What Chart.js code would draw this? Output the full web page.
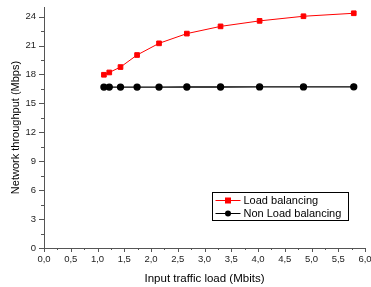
<!DOCTYPE html>
<html>
<head>
<meta charset="utf-8">
<script src="https://cdn.jsdelivr.net/npm/chart.js@4/dist/chart.umd.min.js"></script>
<style>
html,body{margin:0;padding:0;background:#fff}
#wrap{width:371px;height:287px;position:relative}
</style>
</head>
<body>
<div id="wrap"><canvas id="c" width="371" height="287"></canvas></div>
<script>
const loadX = [1.12, 1.22, 1.43, 1.74, 2.15, 2.67, 3.30, 4.03, 4.85, 5.79]
const balanced = [17.97, 18.21, 18.77, 20.02, 21.23, 22.24, 22.99, 23.56, 24.04, 24.35]
const notBalanced = [16.69, 16.69, 16.69, 16.69, 16.69, 16.70, 16.70, 16.71, 16.71, 16.72]
const seriesNames = ["Load balancing", "Non Load balancing"]
const xTitle = "Input traffic load (Mbits)"
const yTitle = "Network throughput (Mbps)"

const FONT = "'Liberation Sans', Arial, sans-serif"
const AXIS = "#555"

function pts(ys){
return loadX.map((x,i)=>({x:x,y:ys[i]}))
}

// minor/major ticks + legend box inside plot
const extras = {
id:"extras",
afterDraw(chart){
const ctx = chart.ctx
const xs = chart.scales.x
const ys = chart.scales.y
const a = chart.chartArea
ctx.save()
ctx.strokeStyle = AXIS
ctx.lineWidth = 1
for(let v=0; v<=6.001; v+=0.25){
const px = Math.round(xs.getPixelForValue(v))+0.5
const major = Math.abs(v*2-Math.round(v*2))<0.01
ctx.beginPath()
ctx.moveTo(px, a.bottom)
ctx.lineTo(px, a.bottom+(major?4:2))
ctx.stroke()
}
for(let v=0; v<=24.001; v+=1.5){
const py = Math.round(ys.getPixelForValue(v))+0.5
const major = Math.abs(v/3-Math.round(v/3))<0.01
ctx.beginPath()
ctx.moveTo(a.left, py)
ctx.lineTo(a.left-(major?5:3), py)
ctx.stroke()
}
// legend
const bx = 212.5, by = 192.5, bw = 136, bh = 28
ctx.fillStyle = "#fff"
ctx.fillRect(bx,by,bw,bh)
ctx.strokeStyle = "#000"
ctx.strokeRect(bx,by,bw,bh)
ctx.font = "11px " + FONT
ctx.textBaseline = "middle"
chart.data.datasets.forEach((ds,i)=>{
const cy = by + 8 + i*13
ctx.strokeStyle = ds.borderColor
ctx.lineWidth = 1
ctx.beginPath()
ctx.moveTo(bx+3, cy)
ctx.lineTo(bx+28, cy)
ctx.stroke()
ctx.fillStyle = ds.pointBackgroundColor
if(ds.pointStyle === "rect"){
ctx.fillRect(bx+15.5-3, cy-3, 6, 6)
} else {
ctx.beginPath()
ctx.arc(bx+15.5, cy, 3, 0, Math.PI*2)
ctx.fill()
}
ctx.fillStyle = "#000"
ctx.fillText(ds.label, bx+31, cy+0.5)
})
ctx.restore()
}
}

new Chart(document.getElementById("c"),{
type:"line",
data:{
datasets:[{
label:seriesNames[0],
data:pts(balanced),
borderColor:"#ff0000",
backgroundColor:"#ff0000",
pointBackgroundColor:"#ff0000",
pointBorderColor:"#ff0000",
pointStyle:"rect",
pointRadius:3.3,
borderWidth:1,
fill:false
},{
label:seriesNames[1],
data:pts(notBalanced),
borderColor:"#000000",
backgroundColor:"#000000",
pointBackgroundColor:"#000000",
pointBorderColor:"#000000",
pointStyle:"circle",
pointRadius:3,
borderWidth:1.3,
fill:false
}]
},
plugins:[extras],
options:{
responsive:false,
animation:false,
layout:{padding:0},
plugins:{legend:{display:false},tooltip:{enabled:false}},
scales:{
x:{
type:"linear",
min:0,max:6,
grid:{display:false,drawTicks:false,tickLength:0},
border:{display:true,color:AXIS,width:1},
ticks:{
stepSize:0.5,
padding:6,
color:"#222",
font:{family:FONT,size:9.5},
maxRotation:0,
autoSkip:false,
callback:v=>v.toFixed(1).replace(".",",")
},
title:{display:true,text:xTitle,color:"#000",font:{family:FONT,size:11.5},padding:{top:2,bottom:1}},
afterFit(s){s.height = 39; s.paddingRight = 6; s.paddingLeft = 0}
},
y:{
min:0,max:25,
grid:{display:false,drawTicks:false,tickLength:0},
border:{display:true,color:AXIS,width:1},
ticks:{
stepSize:3,
includeBounds:false,
padding:8,
color:"#222",
font:{family:FONT,size:9.5}
},
title:{display:true,text:yTitle,color:"#000",font:{family:FONT,size:11},padding:{top:9,bottom:0}},
afterFit(s){s.width = 44; s.paddingTop = 7; s.paddingBottom = 0}
}
}
}
})
</script>
</body>
</html>
